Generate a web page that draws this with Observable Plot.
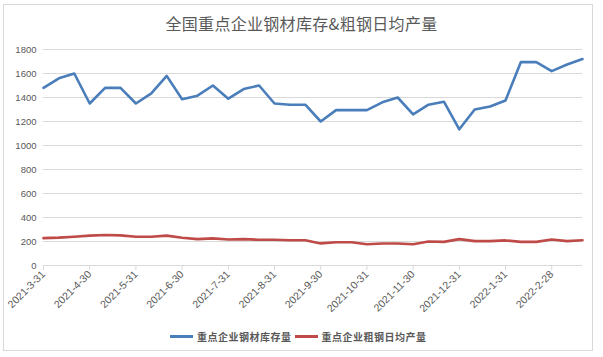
<!DOCTYPE html>
<html><head><meta charset="utf-8">
<script src="https://cdn.jsdelivr.net/npm/d3@7"></script>
<script src="https://cdn.jsdelivr.net/npm/@observablehq/plot@0.6"></script>
<style>
body{margin:0;background:#fff;}
#wrap{position:relative;width:603px;height:357px;overflow:hidden;background:#fff;font-family:"Noto Sans CJK SC","Noto Sans",sans-serif;}
#frame{position:absolute;left:3px;top:4px;width:590px;height:347px;border:1px solid #d9d9d9;box-sizing:border-box;}
#title{position:absolute;left:0;width:603px;top:10px;text-align:center;font-size:16px;letter-spacing:0.3px;color:#595959;line-height:26px;white-space:nowrap;}
#chart{position:absolute;left:0;top:0;}
#legend{position:absolute;left:170px;top:326px;height:20px;display:flex;align-items:center;font-size:10px;letter-spacing:0.5px;color:#595959;font-weight:bold;white-space:nowrap;}
.sw{display:inline-block;width:23px;height:3px;margin-right:4px;}
.item{display:flex;align-items:center;margin-right:3px;}
</style>
</head><body>
<div id="wrap">
<div id="frame"></div>
<div id="chart"></div>
<div id="title">全国重点企业钢材库存&amp;粗钢日均产量</div>
<div id="legend"></div>
</div>
<script>
const dates = ["2021-3-31","2021-4-10","2021-4-20","2021-4-30","2021-5-10","2021-5-20","2021-5-31","2021-6-10","2021-6-20","2021-6-30","2021-7-10","2021-7-20","2021-7-31","2021-8-10","2021-8-20","2021-8-31","2021-9-10","2021-9-20","2021-9-30","2021-10-10","2021-10-20","2021-10-31","2021-11-10","2021-11-20","2021-11-30","2021-12-10","2021-12-20","2021-12-31","2022-1-10","2022-1-20","2022-1-31","2022-2-10","2022-2-20","2022-2-28","2022-3-10","2022-3-20"];
const inventory = [1480,1560,1600,1350,1480,1480,1350,1435,1580,1385,1415,1500,1390,1470,1500,1350,1340,1340,1200,1295,1295,1295,1360,1400,1260,1340,1365,1135,1300,1325,1375,1695,1695,1620,1675,1720];
const dailyOutput = [228,232,240,249,254,251,240,240,249,231,220,226,217,220,214,214,211,211,184,194,194,177,183,183,177,200,197,220,203,203,209,197,197,217,203,211];
const xTickLabels = ["2021-3-31","2021-4-30","2021-5-31","2021-6-30","2021-7-31","2021-8-31","2021-9-30","2021-10-31","2021-11-30","2021-12-31","2022-1-31","2022-2-28"];
const yTicks = [0,200,400,600,800,1000,1200,1400,1600,1800];
const seriesNames = ["重点企业钢材库存量","重点企业粗钢日均产量"];
const seriesColors = ["#4a7ebb","#be4b48"];

const rows = dates.map((d,i)=>({date:d, inv:inventory[i], out:dailyOutput[i]}));

const chart = Plot.plot({
  width: 603, height: 330,
  marginLeft: 43, marginRight: 21, marginTop: 49, marginBottom: 65,
  style: {fontFamily: "'Liberation Sans', Arial, sans-serif", fontSize: "9.5px", background: "transparent"},
  x: {type: "point", domain: dates, padding: 0, round: false, label: null},
  y: {domain: [0, 1800], label: null},
  marks: [
    Plot.gridY(yTicks.filter(v=>v>0), {stroke: "#d9d9d9", strokeOpacity: 1, strokeWidth: 1}),
    Plot.ruleY([0], {stroke: "#d9d9d9", strokeWidth: 1}),
    Plot.ruleX(xTickLabels, {y1: 0, y2: -42, stroke: "#d9d9d9"}),
    Plot.axisY(yTicks, {tickSize: 0, tickPadding: 7, fill: "#595959", label: null, tickFormat: d => String(d)}),
    Plot.axisX(xTickLabels, {tickSize: 0, tickRotate: -45, tickPadding: 7, fill: "#595959", fontSize: 10.5, label: null}),
    Plot.line(rows, {x: "date", y: "inv", stroke: seriesColors[0], strokeWidth: 2.6}),
    Plot.line(rows, {x: "date", y: "out", stroke: seriesColors[1], strokeWidth: 2.6})
  ]
});
document.getElementById("chart").appendChild(chart);

const leg = document.getElementById("legend");
seriesNames.forEach((n,i)=>{
  const it = document.createElement("span"); it.className="item";
  const sw = document.createElement("span"); sw.className="sw"; sw.style.background=seriesColors[i];
  const t = document.createElement("span"); t.textContent=n;
  it.appendChild(sw); it.appendChild(t); leg.appendChild(it);
});
</script>
</body></html>
